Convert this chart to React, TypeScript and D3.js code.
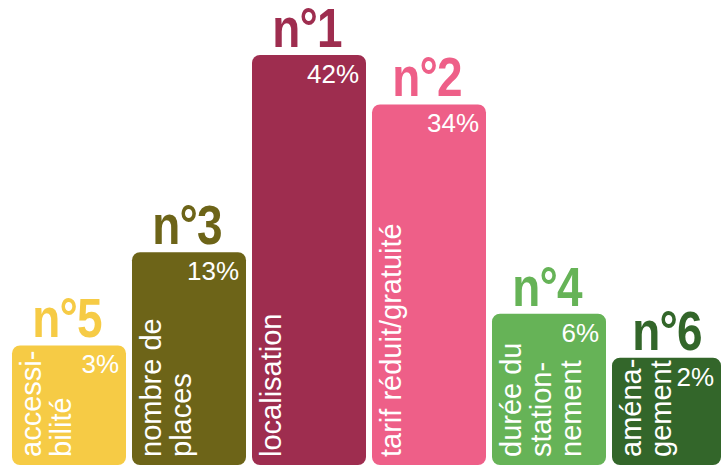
import React from "react";
import * as d3 from "d3";

const ranks = ["n°5", "n°3", "n°1", "n°2", "n°4", "n°6"];
const percents = [3, 13, 42, 34, 6, 2];
const labelLines = [
  ["accessi-", "bilité"],
  ["nombre de", "places"],
  ["localisation"],
  ["tarif réduit/gratuité"],
  ["durée du", "station-", "nement"],
  ["aména-", "gement"],
];
const colors = ["#f6cb45", "#6d6418", "#9e2d4f", "#ee5f88", "#66b357", "#33662a"];

const W = 722;
const H = 469;
const BOTTOM = 465;

export default function App() {
  const idx = d3.range(percents.length);
  const x = d3
    .scaleBand<number>()
    .domain(idx)
    .range([6, 732])
    .paddingInner(0.05)
    .paddingOuter(0.05);
  // bar height grows with the share, compressed so small shares stay readable
  const h = d3.scalePow().exponent(0.75).domain([0, 42]).range([73, 410]);

  const sans = "'Liberation Sans', Arial, Helvetica, sans-serif";

  return (
    <svg
      width={W}
      height={H}
      style={{ position: "absolute", left: 0, top: 0, background: "#fff" }}
      fontFamily={sans}
    >
      {idx.map((i) => {
        const bx = x(i)!;
        const bw = Math.min(x.bandwidth(), W - 1 - bx);
        const top = BOTTOM - h(percents[i]);
        const cx = bx + x.bandwidth() / 2;
        return (
          <g key={i}>
            <rect x={bx} y={top} width={bw} height={BOTTOM - top} rx={8} ry={8} fill={colors[i]} />
            <text
              transform={`translate(${cx - 2},${top - 8}) scale(0.82,1)`}
              textAnchor="middle"
              fontSize={56}
              fontWeight="bold"
              fill={colors[i]}
              letterSpacing={-1}
            >
              {ranks[i]}
            </text>
            <text
              x={bx + bw - 7}
              y={top + 28}
              textAnchor="end"
              fontSize={26}
              fill="#fff"
            >
              {percents[i]}%
            </text>
            <text
              transform={`translate(${bx + 29},${BOTTOM - 8}) rotate(-90)`}
              fontSize={29}
              fill="#fff"
            >
              {labelLines[i].map((line, j) => (
                <tspan key={j} x={0} y={j * 30}>
                  {line}
                </tspan>
              ))}
            </text>
          </g>
        );
      })}
    </svg>
  );
}
